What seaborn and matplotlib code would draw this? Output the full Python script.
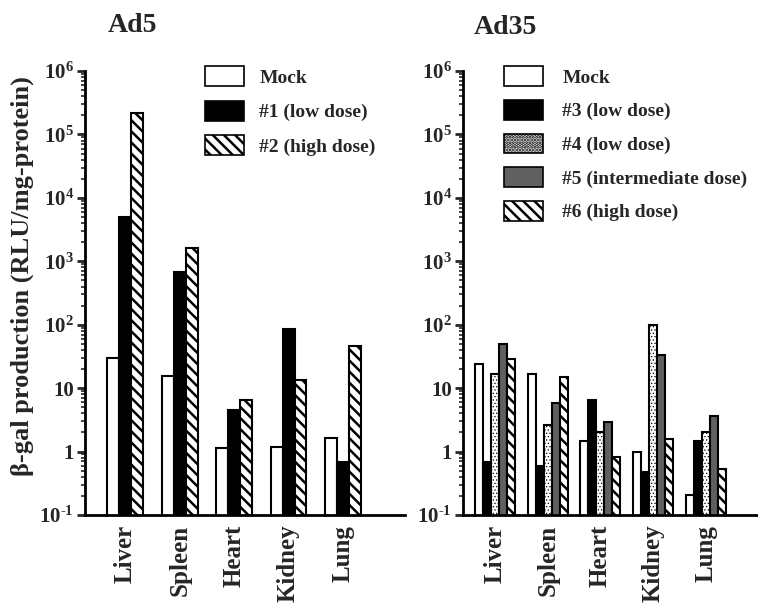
import numpy as np
import pandas as pd
import seaborn as sns
import matplotlib.pyplot as plt
from matplotlib.patches import Patch
from matplotlib.ticker import LogLocator, FixedLocator, FuncFormatter

organs = ["Liver", "Spleen", "Heart", "Kidney", "Lung"]

# Ad5 panel
ad5_groups = ["Mock", "#1 (low dose)", "#2 (high dose)"]
ad5_mock = [30, 15.5, 1.12, 1.2, 1.65]
ad5_low = [5000, 690, 4.6, 87, 0.68]
ad5_high = [220000, 1600, 6.4, 13.5, 47]

# Ad35 panel
ad35_groups = ["Mock", "#3 (low dose)", "#4 (low dose)",
               "#5 (intermediate dose)", "#6 (high dose)"]
ad35_mock = [24, 17, 1.45, 1.0, 0.21]
ad35_low3 = [0.68, 0.6, 6.5, 0.47, 1.45]
ad35_low4 = [16.5, 2.6, 2.05, 100, 2.0]
ad35_mid = [50, 5.9, 2.95, 33, 3.7]
ad35_high = [29, 15, 0.81, 1.55, 0.54]

ad5_styles = [("white", ""), ("black", ""), ("white", "\\\\\\")]
ad35_styles = [("white", ""), ("black", ""), ("white", "....."),
               ("#606060", ""), ("white", "\\\\\\")]

sns.set_style("white")
plt.rcParams["font.family"] = ["Liberation Serif", "DejaVu Serif"]
plt.rcParams["font.weight"] = "bold"
plt.rcParams["mathtext.fontset"] = "custom"
plt.rcParams["mathtext.rm"] = "Liberation Serif:bold"
plt.rcParams["mathtext.bf"] = "Liberation Serif:bold"
plt.rcParams["mathtext.default"] = "rm"
plt.rcParams["hatch.linewidth"] = 1.8


def long_df(groups, series):
    rows = []
    for g, vals in zip(groups, series):
        for o, v in zip(organs, vals):
            rows.append({"organ": o, "group": g, "value": v})
    return pd.DataFrame(rows)


def sup(v, _):
    e = int(round(np.log10(v)))
    if e == 1:
        return "10"
    if e == 0:
        return "1"
    if e < 0:
        return "$10^{\\text{-}%d}$" % (-e)
    return "$10^{%d}$" % e


def draw_panel(ax, groups, series, styles, width, xlim):
    df = long_df(groups, series)
    sns.barplot(data=df, x="organ", y="value", hue="group", ax=ax,
                palette=[s[0] for s in styles], width=width, gap=0,
                edgecolor="black", linewidth=1.5, legend=False)
    ax.set_yscale("log")
    n = len(organs)
    for i, (fc, hatch) in enumerate(styles):
        for p in ax.patches[i * n:(i + 1) * n]:
            p.set_facecolor(fc)
            p.set_hatch(hatch)
            p.set_edgecolor("black")
            if hatch.startswith(".") and hasattr(p, "set_hatch_linewidth"):
                p.set_hatch_linewidth(0.5)
    ax.set_ylim(0.1, 1e6)
    ax.set_xlim(*xlim)
    ax.yaxis.set_major_locator(FixedLocator([0.1, 1, 10, 100, 1e3, 1e4, 1e5, 1e6]))
    ax.yaxis.set_major_formatter(FuncFormatter(sup))
    ax.yaxis.set_minor_locator(LogLocator(base=10, subs=np.arange(2, 10)))
    ax.tick_params(axis="y", which="major", direction="out", length=6, width=2,
                   left=True, labelsize=15, pad=2)
    ax.tick_params(axis="y", which="minor", direction="out", length=3, width=1.2,
                   left=True)
    ax.tick_params(axis="x", length=0, labelsize=18, labelrotation=90, pad=7)
    for lab in ax.get_xticklabels() + ax.get_yticklabels():
        lab.set_fontweight("bold")
    for side in ["top", "right"]:
        ax.spines[side].set_visible(False)
    for side in ["left", "bottom"]:
        ax.spines[side].set_linewidth(2)
        ax.spines[side].set_color("black")
    ax.set_xlabel("")
    ax.set_ylabel("")
    handles = []
    for g, (fc, h) in zip(groups, styles):
        hp = Patch(facecolor=fc, edgecolor="black", hatch=h, linewidth=1.2, label=g)
        if h.startswith(".") and hasattr(hp, "set_hatch_linewidth"):
            hp.set_hatch_linewidth(0.5)
        handles.append(hp)
    return handles


fig = plt.figure(figsize=(7.58, 6.04), dpi=100)
ax1 = fig.add_axes([0.1121, 0.1474, 0.4222, 0.735])
ax2 = fig.add_axes([0.6108, 0.1474, 0.389, 0.735])

h1 = draw_panel(ax1, ad5_groups, [ad5_mock, ad5_low, ad5_high],
                ad5_styles, 0.66, (-0.74, 5.14))
h2 = draw_panel(ax2, ad35_groups, [ad35_mock, ad35_low3, ad35_low4, ad35_mid, ad35_high],
                ad35_styles, 0.76, (-0.61, 4.99))

ax1.legend(handles=h1, loc="upper left", bbox_to_anchor=(0.32, 1.05), frameon=False,
           prop={"size": 14, "weight": "bold"}, handlelength=2.0, handleheight=1.2,
           labelspacing=0.72, handletextpad=0.8)
ax2.legend(handles=h2, loc="upper left", bbox_to_anchor=(0.08, 1.05), frameon=False,
           prop={"size": 14, "weight": "bold"}, handlelength=2.0, handleheight=1.2,
           labelspacing=0.67, handletextpad=1.0)

fig.text(132 / 758, 1 - 25 / 604, "Ad5", ha="center", va="center",
         fontsize=20, fontweight="bold")
fig.text(505 / 758, 1 - 27 / 604, "Ad35", ha="center", va="center",
         fontsize=20, fontweight="bold")
fig.text(22 / 758, 1 - 276 / 604, "β-gal production (RLU/mg-protein)",
         rotation=90, ha="center", va="center", fontsize=19, fontweight="bold")

fig.savefig("out.png", dpi=100)
